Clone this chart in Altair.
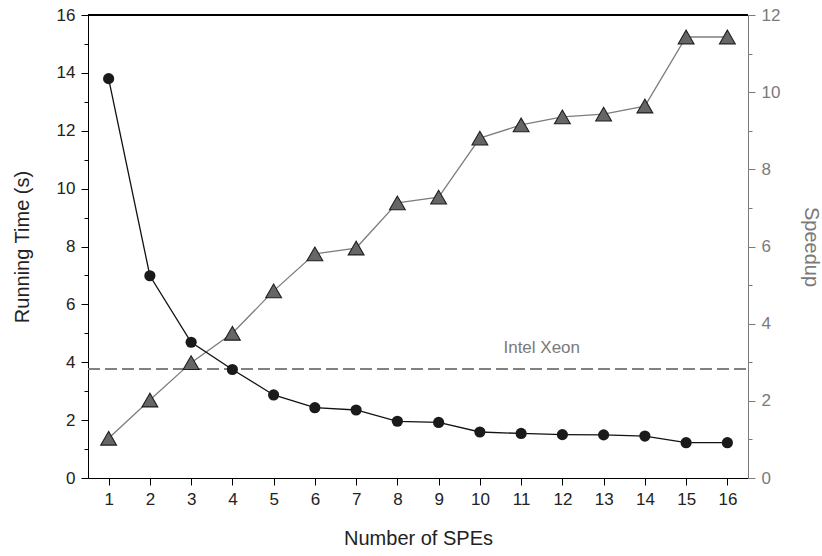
import altair as alt
import pandas as pd

spes = list(range(1, 17))
running_time = [13.8, 6.99, 4.69, 3.75, 2.87, 2.43, 2.35, 1.96, 1.92, 1.59, 1.54, 1.50, 1.49, 1.45, 1.22, 1.22]
speedup = [1.03, 2.02, 2.99, 3.75, 4.85, 5.81, 5.96, 7.13, 7.28, 8.81, 9.15, 9.36, 9.43, 9.64, 11.43, 11.43]
xeon_time = 3.76
xeon_label = "Intel Xeon"
xeon_label_x = 11.5
xeon_label_y = 4.5
left_ticks = [0, 2, 4, 6, 8, 10, 12, 14, 16]
left_minor = [1, 3, 5, 7, 9, 11, 13, 15]
right_ticks = [0, 2, 4, 6, 8, 10, 12]
right_minor = [1, 3, 5, 7, 9, 11]

df = pd.DataFrame({"spe": spes, "time": running_time, "speedup": speedup})

W, H = 660, 463
FONT = "Liberation Sans"
GRAY = "#7a7a7a"

xscale = alt.Scale(domain=[0.5, 16.5], nice=False, zero=False)
xaxis = alt.Axis(values=spes, title="Number of SPEs", grid=False, tickSize=7,
                 domainColor="black", tickColor="black", labelColor="#222",
                 titleColor="#222", labelFontSize=17, titleFontSize=20,
                 labelFont=FONT, titleFont=FONT, titleFontWeight="normal",
                 labelPadding=6, titlePadding=21, labelFlush=False, format="d")
X = alt.X("spe:Q", scale=xscale, axis=xaxis)

lscale = alt.Scale(domain=[0, 16], nice=False)
rscale = alt.Scale(domain=[0, 12], nice=False)

base = alt.Chart(df)

x_axis_layer = base.mark_point(opacity=0).encode(x=X, y=alt.Y("time:Q", scale=lscale, axis=None))

rule = base.mark_rule(color="#808080", strokeDash=[12, 5], strokeWidth=1).encode(
    y=alt.Y(datum=xeon_time, scale=lscale, axis=None),
    x=alt.value(0), x2=alt.value(W))

label = alt.Chart(pd.DataFrame({"spe": [xeon_label_x], "ly": [xeon_label_y], "t": [xeon_label]})).mark_text(
    font=FONT, fontSize=17, color=GRAY).encode(
    x=X,
    y=alt.Y("ly:Q", scale=lscale, axis=None),
    text="t:N")

top = base.mark_rule(color="black", strokeWidth=1.2).encode(
    y=alt.value(0), x=alt.value(0), x2=alt.value(W))

left_minor_axis = base.mark_point(opacity=0).encode(
    x=X,
    y=alt.Y("time:Q", scale=lscale,
            axis=alt.Axis(values=left_minor, labels=False, domain=False, grid=False,
                          tickSize=4, tickColor="black", title=None, orient="left")))

right_minor_axis = base.mark_point(opacity=0).encode(
    x=X,
    y=alt.Y("speedup:Q", scale=rscale,
            axis=alt.Axis(values=right_minor, labels=False, domain=False, grid=False,
                          tickSize=4, tickColor=GRAY, title=None, orient="right")))

speed_line = base.mark_line(color="#7d7d7d", strokeWidth=1.3).encode(
    x=X,
    y=alt.Y("speedup:Q", scale=rscale,
            axis=alt.Axis(values=right_ticks, orient="right", title="Speedup", grid=False,
                          tickSize=7, domainColor=GRAY, tickColor=GRAY, labelColor=GRAY,
                          titleColor=GRAY, labelFontSize=17, titleFontSize=20,
                          labelFont=FONT, titleFont=FONT, titleFontWeight="normal",
                          labelPadding=6, titlePadding=21, titleAngle=90)))

speed_pts = base.mark_point(shape="triangle-up", filled=True, size=250, fill="#666666",
                            stroke="#1e1e1e", strokeWidth=1.1, opacity=1).encode(
    x=X, y=alt.Y("speedup:Q", scale=rscale, axis=None))

time_line = base.mark_line(color="#111111", strokeWidth=1.3).encode(
    x=X,
    y=alt.Y("time:Q", scale=lscale,
            axis=alt.Axis(values=left_ticks, orient="left", title="Running Time (s)", grid=False,
                          tickSize=7, domainColor="black", tickColor="black", labelColor="#222",
                          titleColor="#222", labelFontSize=17, titleFontSize=20,
                          labelFont=FONT, titleFont=FONT, titleFontWeight="normal",
                          labelPadding=6, titlePadding=24)))

time_pts = base.mark_circle(size=125, color="#1a1a1a", opacity=1).encode(
    x=X, y=alt.Y("time:Q", scale=lscale, axis=None))

chart = alt.layer(
    x_axis_layer, rule, label, top, left_minor_axis, right_minor_axis,
    speed_line, speed_pts, time_line, time_pts
).resolve_scale(y="independent").properties(
    width=W, height=H,
    autosize=alt.AutoSizeParams(type="none"),
    padding={"left": 88, "top": 15, "right": 74, "bottom": 78},
).configure_view(stroke=None).configure(background="white")

chart.save("out.html", embed_options={"renderer": "svg", "actions": False})
